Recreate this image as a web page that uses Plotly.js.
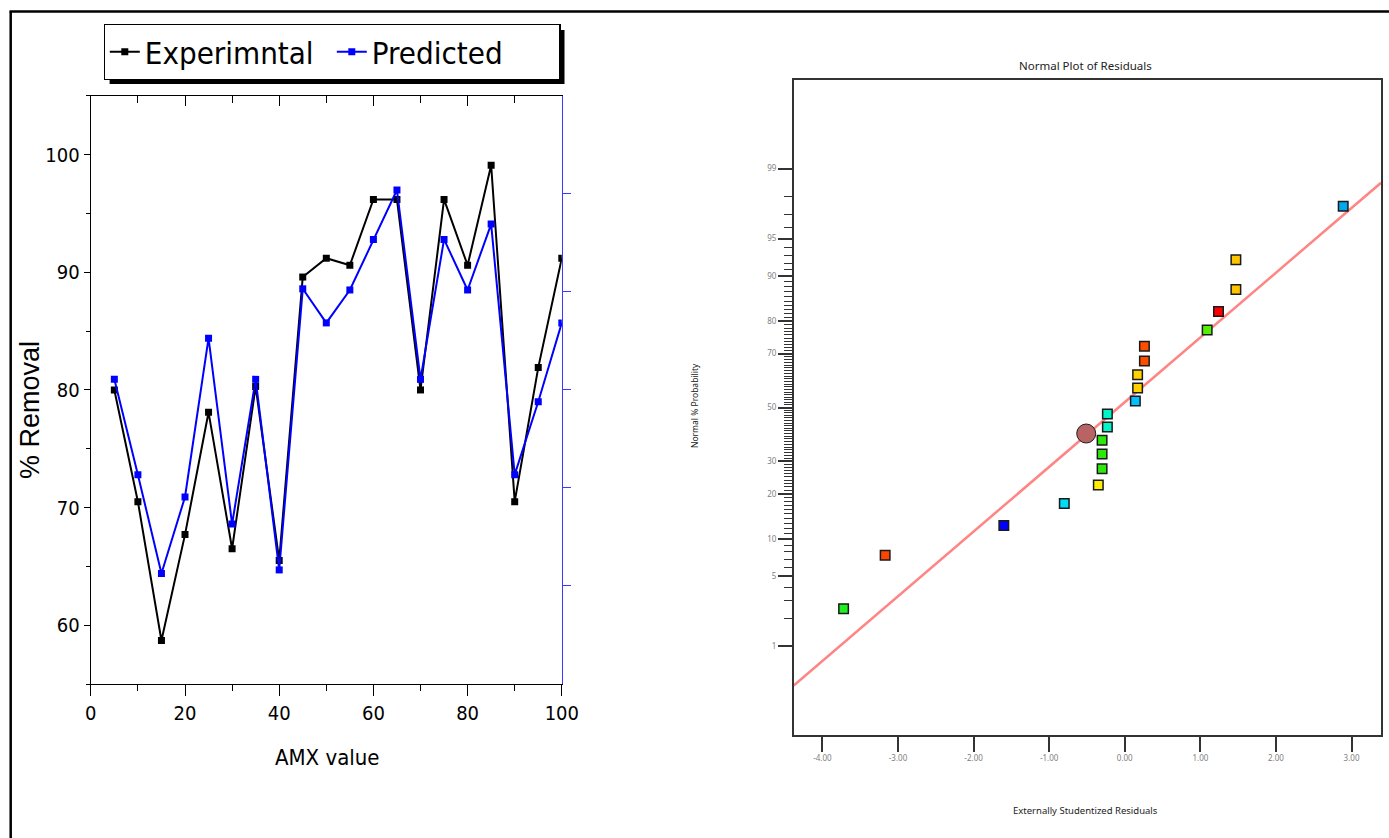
<!DOCTYPE html>
<html>
<head>
<meta charset="utf-8">
<script src="https://cdn.plot.ly/plotly-3.0.1.min.js"></script>
<style>
  html, body { margin: 0; padding: 0; background: #ffffff; }
  #chart { width: 1389px; height: 838px; }
</style>
</head>
<body>
<div id="chart"></div>
<script>
// ---------------- DATA ----------------
// Left chart: AMX value vs % Removal
const amxValues = [5, 10, 15, 20, 25, 30, 35, 40, 45, 50, 55, 60, 65, 70, 75, 80, 85, 90, 95, 100];
const experimentalRemoval = [80.0, 70.5, 58.7, 67.7, 78.1, 66.5, 80.3, 65.5, 89.6, 91.2, 90.6, 96.2, 96.2, 80.0, 96.2, 90.6, 99.1, 70.5, 81.9, 91.2];
const predictedRemoval = [80.9, 72.8, 64.4, 70.9, 84.4, 68.6, 80.9, 64.7, 88.6, 85.7, 88.5, 92.8, 97.0, 80.9, 92.8, 88.5, 94.1, 72.8, 79.0, 85.7];
const seriesNames = ["Experimntal", "Predicted"];

// Right chart: normal plot of residuals
const residuals = [-3.72, -3.17, -1.60, -0.80, -0.35, -0.30, -0.30, -0.30, -0.23, -0.23, 0.14, 0.17, 0.17, 0.26, 0.26, 1.09, 1.24, 1.47, 1.47, 2.89];
const normalProb = [2.5, 7.5, 12.5, 17.5, 22.5, 27.5, 32.5, 37.5, 42.5, 47.5, 52.5, 57.5, 62.5, 67.5, 72.5, 77.5, 82.5, 87.5, 92.5, 97.5];
const residualColors = ["#20f020", "#ff4400", "#0000ff", "#00dcf5", "#ffee00", "#2ee80a", "#2ee80a", "#2ee80a", "#00f5c8", "#00f5c8",
                        "#00c0ff", "#ffd200", "#ffd200", "#ff4d00", "#ff4d00", "#55f000", "#ff0000", "#ffc400", "#ffc400", "#00a8f0"];
const highlightResidual = [-0.51];
const highlightProb = [40.0];
// reference line (residual, normal % probability) at the two ends of the frame
const fitResidual = [-4.38, 3.39];
const fitProb = [0.338, 98.57];

const probMajorTicks = [1, 5, 10, 20, 30, 50, 70, 80, 90, 95, 99];
const residTicks = [-4, -3, -2, -1, 0, 1, 2, 3];
const residTickText = ["-4.00", "-3.00", "-2.00", "-1.00", "0.00", "1.00", "2.00", "3.00"];

// ---------------- HELPERS ----------------
// inverse standard normal CDF (Acklam), p in percent
function probit(pct) {
  const p = pct / 100;
  const a = [-3.969683028665376e+01, 2.209460984245205e+02, -2.759285104469687e+02, 1.383577518672690e+02, -3.066479806614716e+01, 2.506628277459239e+00];
  const b = [-5.447609879822406e+01, 1.615858368580409e+02, -1.556989798598866e+02, 6.680131188771972e+01, -1.328068155288572e+01];
  const c = [-7.784894002430293e-03, -3.223964580411365e-01, -2.400758277161838e+00, -2.549732539343734e+00, 4.374664141464968e+00, 2.938163982698783e+00];
  const d = [7.784695709041462e-03, 3.224671290700398e-01, 2.445134137142996e+00, 3.754408661907416e+00];
  const pl = 0.02425, ph = 1 - pl;
  let q, r;
  if (p < pl) {
    q = Math.sqrt(-2 * Math.log(p));
    return (((((c[0]*q+c[1])*q+c[2])*q+c[3])*q+c[4])*q+c[5]) / ((((d[0]*q+d[1])*q+d[2])*q+d[3])*q+1);
  } else if (p <= ph) {
    q = p - 0.5; r = q * q;
    return (((((a[0]*r+a[1])*r+a[2])*r+a[3])*r+a[4])*r+a[5])*q / (((((b[0]*r+b[1])*r+b[2])*r+b[3])*r+b[4])*r+1);
  } else {
    q = Math.sqrt(-2 * Math.log(1 - p));
    return -(((((c[0]*q+c[1])*q+c[2])*q+c[3])*q+c[4])*q+c[5]) / ((((d[0]*q+d[1])*q+d[2])*q+d[3])*q+1);
  }
}
const W = 1389, H = 838;
const px = v => v / W;          // pixel x -> paper
const py = v => (H - v) / H;    // pixel y -> paper

const minorProb = [];
for (let i = 1; i <= 99; i++) if (probMajorTicks.indexOf(i) < 0) minorProb.push(i);

const NARROW = "'Liberation Sans Narrow', 'Arial Narrow', 'DejaVu Sans Condensed', 'Liberation Sans', sans-serif";
const UI = "'Noto Sans', 'Open Sans', 'DejaVu Sans', sans-serif";

// ---------------- TRACES ----------------
const traces = [
  {
    x: amxValues, y: experimentalRemoval, name: seriesNames[0],
    type: "scatter", mode: "lines+markers", xaxis: "x", yaxis: "y",
    line: { color: "#000000", width: 2 },
    marker: { symbol: "square", size: 7, color: "#000000" }
  },
  {
    x: amxValues, y: predictedRemoval, name: seriesNames[1],
    type: "scatter", mode: "lines+markers", xaxis: "x", yaxis: "y",
    line: { color: "#0000ff", width: 2 },
    marker: { symbol: "square", size: 7, color: "#0000ff" }
  },
  // helpers so that the mirrored top axis and right blue axis are drawn
  { x: [], y: [], xaxis: "x3", yaxis: "y", showlegend: false, hoverinfo: "skip", type: "scatter" },
  { x: [], y: [], xaxis: "x", yaxis: "y2", showlegend: false, hoverinfo: "skip", type: "scatter" },
  // right chart
  {
    x: fitResidual, y: fitProb.map(probit), type: "scatter", mode: "lines",
    xaxis: "x2", yaxis: "y3", showlegend: false, hoverinfo: "skip",
    line: { color: "rgba(255,110,110,0.85)", width: 2.5 }
  },
  {
    x: residuals, y: normalProb.map(probit), type: "scatter", mode: "markers",
    xaxis: "x2", yaxis: "y3", showlegend: false,
    customdata: normalProb,
    hovertemplate: "%{x:.2f}, %{customdata}%<extra></extra>",
    marker: { symbol: "square", size: 9.5, color: residualColors, line: { color: "#1a1a1a", width: 1.5 } }
  },
  {
    x: highlightResidual, y: highlightProb.map(probit), type: "scatter", mode: "markers",
    xaxis: "x2", yaxis: "y3", showlegend: false,
    marker: { symbol: "circle", size: 19, color: "#b86464", line: { color: "#1a1a1a", width: 1 } }
  }
];

// ---------------- LAYOUT ----------------
const leftX = [px(90.8), px(561.8)];
const leftY = [py(684), py(95.9)];
const rightX = [px(793.7), px(1381)];
const rightY = [py(735), py(80)];

const layout = {
  width: W, height: H, autosize: false,
  margin: { l: 0, r: 0, t: 0, b: 0, pad: 0 },
  paper_bgcolor: "#ffffff", plot_bgcolor: "rgba(0,0,0,0)",
  showlegend: true,
  hovermode: "closest",
  legend: {
    x: px(103.6), y: py(24), xanchor: "left", yanchor: "top",
    orientation: "h", bgcolor: "#ffffff", bordercolor: "#000000", borderwidth: 1.2,
    font: { family: NARROW, size: 31, color: "#000000" },
    itemwidth: 30, entrywidth: 182, entrywidthmode: "pixels", tracegroupgap: 0
  },
  xaxis: {
    domain: leftX, anchor: "y", range: [0, 100], dtick: 20, tick0: 0,
    showgrid: false, zeroline: false, showline: true, linecolor: "#000000", linewidth: 1.3,
    ticks: "outside", ticklen: 11, tickwidth: 1.3, tickcolor: "#000000",
    minor: { dtick: 10, tick0: 0, ticks: "outside", ticklen: 6, tickwidth: 1.3, tickcolor: "#000000" },
    tickfont: { family: NARROW, size: 20, color: "#000000" }
  },
  xaxis3: {
    overlaying: "x", anchor: "y", side: "top", range: [0, 100], dtick: 20, tick0: 0,
    showgrid: false, zeroline: false, showline: true, linecolor: "#000000", linewidth: 1.3,
    showticklabels: false,
    ticks: "inside", ticklen: 10, tickwidth: 1.3, tickcolor: "#000000",
    minor: { dtick: 10, tick0: 0, ticks: "inside", ticklen: 7, tickwidth: 1.3, tickcolor: "#000000" }
  },
  yaxis: {
    domain: leftY, anchor: "x", range: [55, 105], dtick: 10, tick0: 0,
    showgrid: false, zeroline: false, showline: true, linecolor: "#000000", linewidth: 1.3,
    ticks: "outside", ticklen: 6, tickwidth: 1.3, tickcolor: "#000000",
    minor: { dtick: 5, tick0: 0, ticks: "outside", ticklen: 4, tickwidth: 1.3, tickcolor: "#000000" },
    tickfont: { family: NARROW, size: 20, color: "#000000" }
  },
  yaxis2: {
    overlaying: "y", anchor: "x", side: "right", range: [0, 6],
    tickvals: [1, 2, 3, 4, 5], showticklabels: false,
    showgrid: false, zeroline: false, showline: true, linecolor: "#3a3aff", linewidth: 1.3,
    ticks: "outside", ticklen: 8, tickwidth: 1.3, tickcolor: "#3a3aff"
  },
  xaxis2: {
    domain: rightX, anchor: "y3", range: [-4.38, 3.39],
    tickmode: "array", tickvals: residTicks, ticktext: residTickText,
    showgrid: false, zeroline: false, showline: true, mirror: true, linecolor: "#333333", linewidth: 1.6,
    ticks: "outside", ticklen: 15, tickwidth: 1.5, tickcolor: "#333333",
    tickfont: { family: UI, size: 8, color: "#808080" }
  },
  yaxis3: {
    domain: rightY, anchor: "x2", range: [-3.19, 3.19],
    tickmode: "array", tickvals: probMajorTicks.map(probit), ticktext: probMajorTicks.map(String),
    showgrid: false, zeroline: false, showline: true, mirror: true, linecolor: "#333333", linewidth: 1.6,
    ticks: "outside", ticklen: 14, tickwidth: 1.5, tickcolor: "#333333",
    minor: { tickmode: "array", tickvals: minorProb.map(probit), ticks: "outside", ticklen: 8, tickwidth: 1.2, tickcolor: "#333333" },
    tickfont: { family: UI, size: 8, color: "#808080" }
  },
  shapes: [
    // outer frame (top + left)
    { type: "line", xref: "paper", yref: "paper", x0: px(10.7), y0: py(838), x1: px(10.7), y1: py(11.5), line: { color: "#000000", width: 2.5 } },
    { type: "line", xref: "paper", yref: "paper", x0: px(9.5), y0: py(11.5), x1: px(1389), y1: py(11.5), line: { color: "#000000", width: 2.5 } },
    // legend shadow
    { type: "rect", xref: "paper", yref: "paper", x0: px(109.6), y0: py(84), x1: px(564.5), y1: py(30), fillcolor: "#000000", line: { width: 0 }, layer: "above" }
  ],
  annotations: [
    { text: "% Removal", xref: "paper", yref: "paper", x: px(30), y: py(410), textangle: -90, showarrow: false,
      xanchor: "center", yanchor: "middle", font: { family: "'Liberation Sans', Arial, sans-serif", size: 27, color: "#000000" } },
    { text: "AMX value", xref: "paper", yref: "paper", x: px(327), y: py(757), showarrow: false,
      xanchor: "center", yanchor: "middle", font: { family: NARROW, size: 22, color: "#000000" } },
    { text: "Normal Plot of Residuals", xref: "paper", yref: "paper", x: px(1085), y: py(65), showarrow: false,
      xanchor: "center", yanchor: "middle", font: { family: UI, size: 11.5, color: "#222222" } },
    { text: "Externally Studentized Residuals", xref: "paper", yref: "paper", x: px(1085), y: py(810), showarrow: false,
      xanchor: "center", yanchor: "middle", font: { family: UI, size: 9.5, color: "#222222" } },
    { text: "Normal % Probability", xref: "paper", yref: "paper", x: px(695), y: py(406), textangle: -90, showarrow: false,
      xanchor: "center", yanchor: "middle", font: { family: UI, size: 8.5, color: "#222222" } }
  ]
};

Plotly.newPlot("chart", traces, layout, { displayModeBar: false, responsive: false });
</script>
</body>
</html>
